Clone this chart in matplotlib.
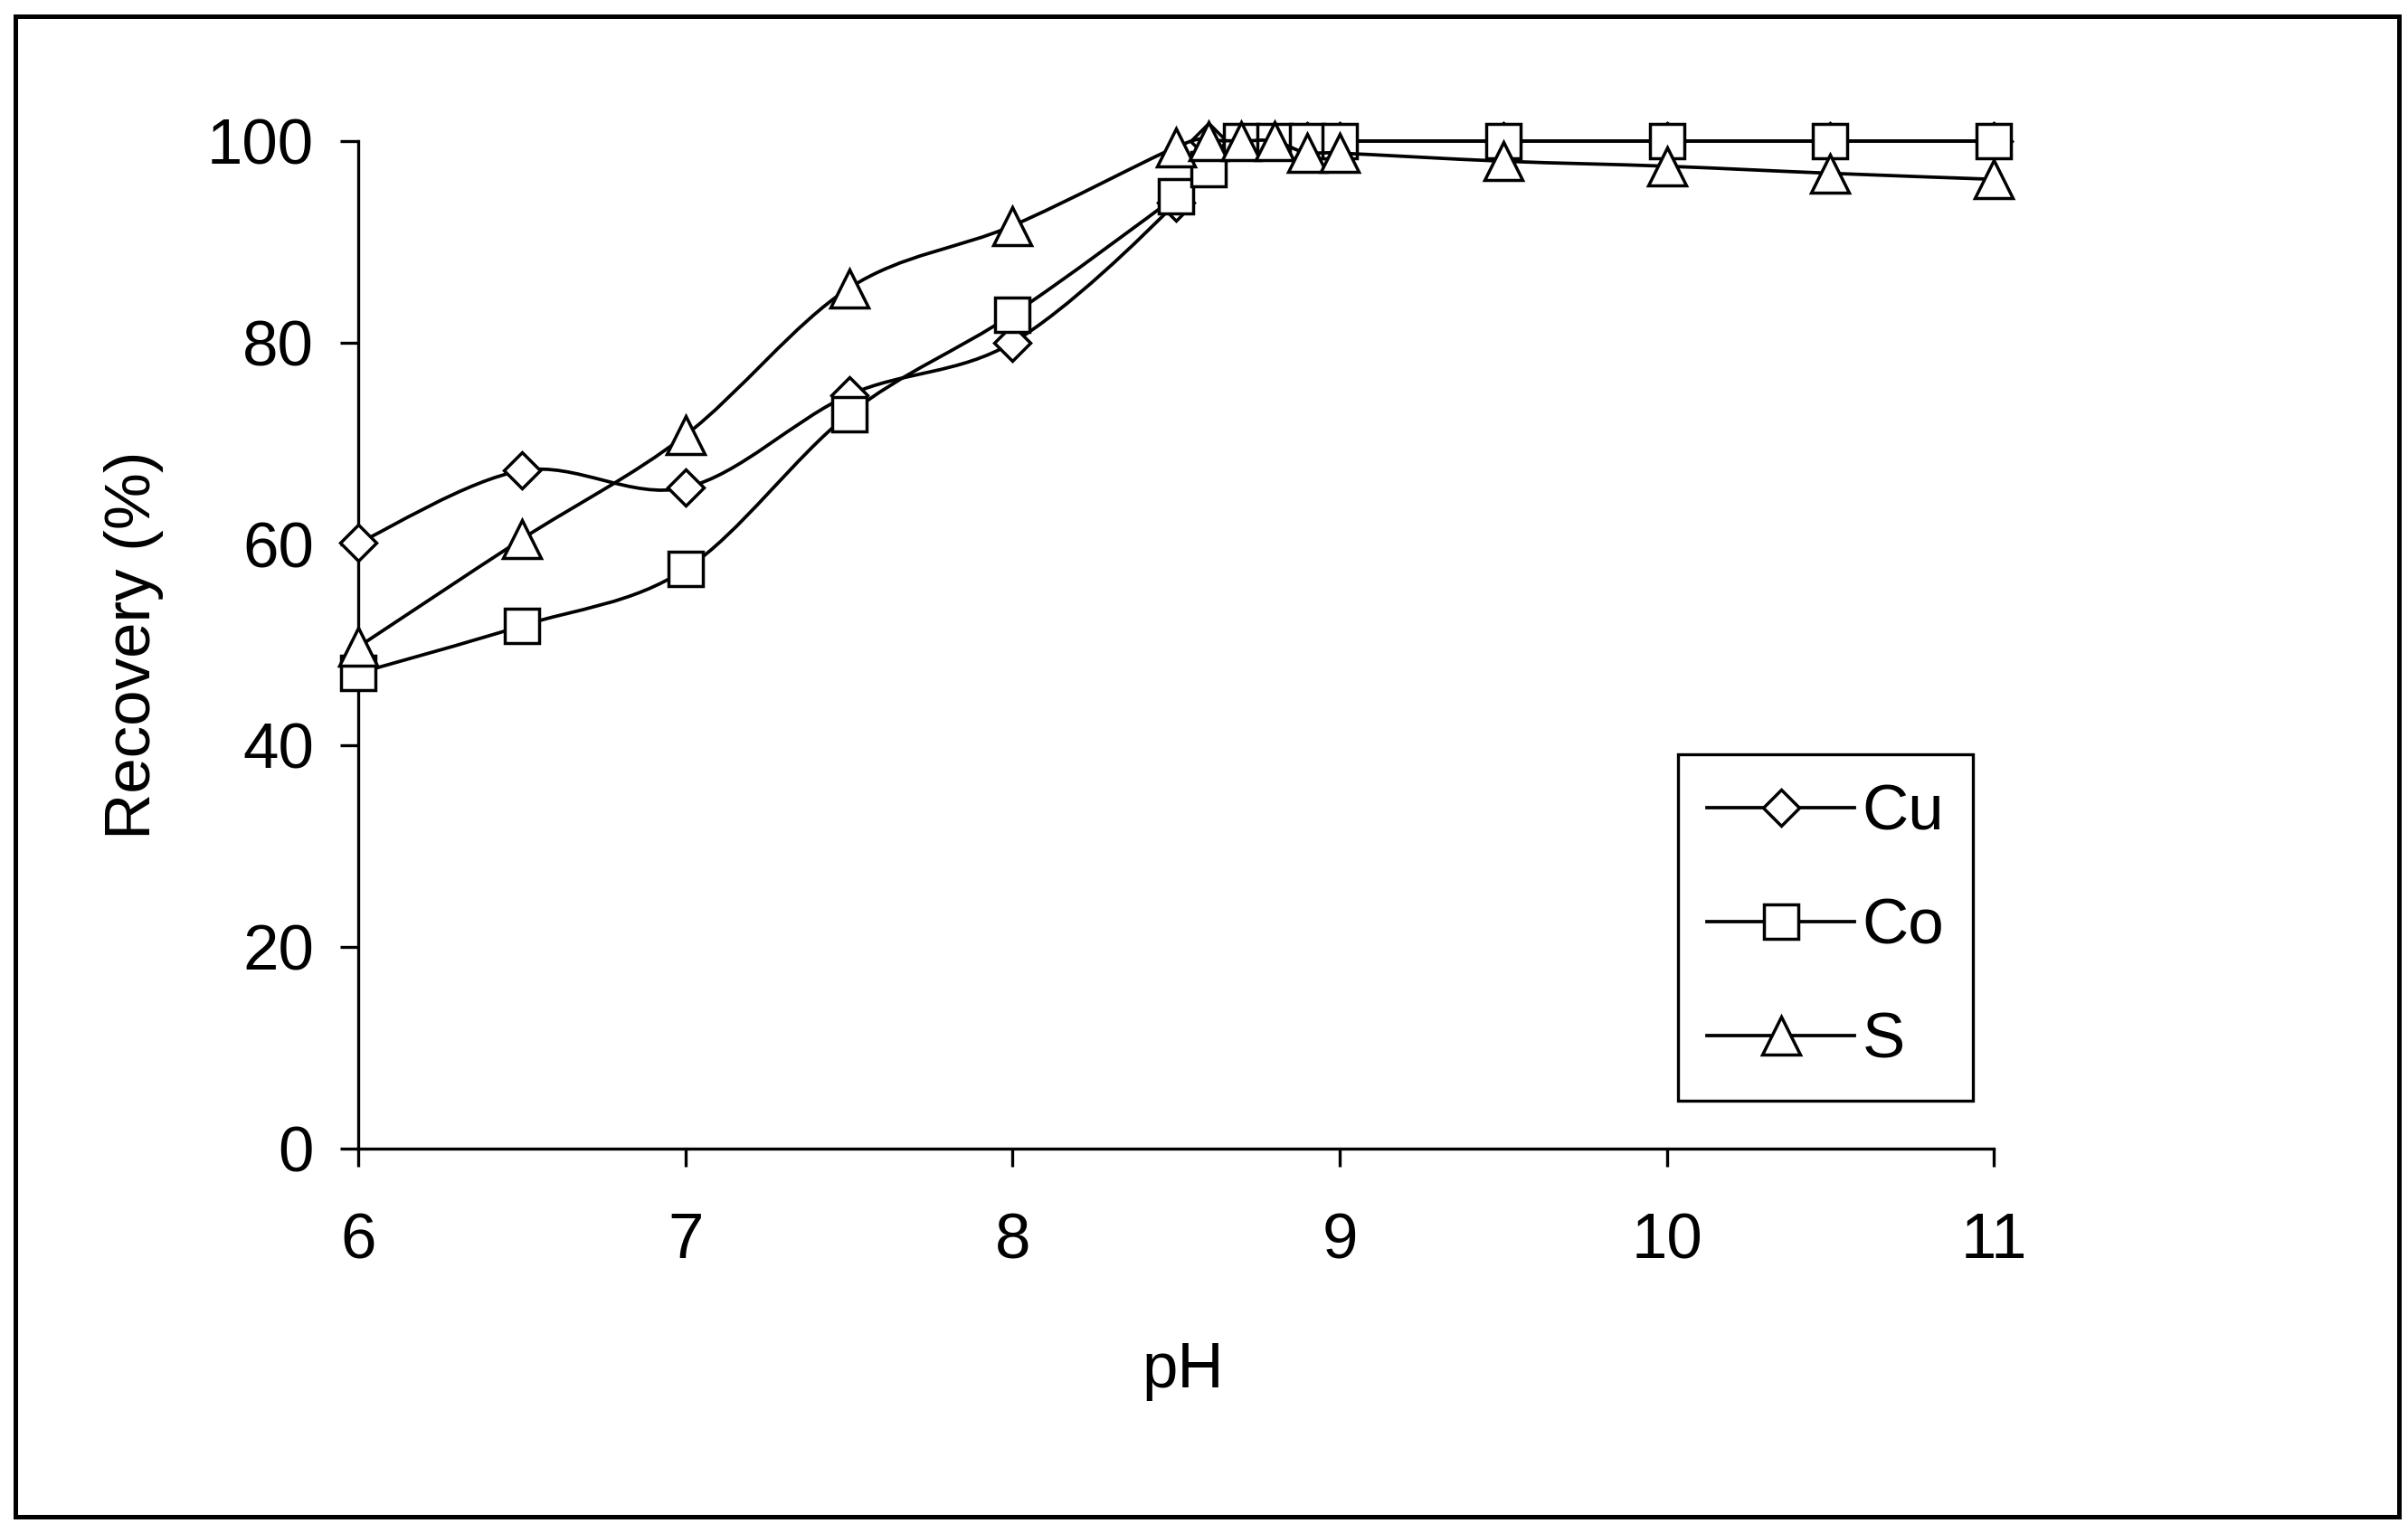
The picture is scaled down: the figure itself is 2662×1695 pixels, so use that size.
import matplotlib.pyplot as plt
from matplotlib.path import Path
from matplotlib.patches import PathPatch, Rectangle
from matplotlib.lines import Line2D
import numpy as np

plt.rcParams['font.family'] = ['Liberation Sans', 'DejaVu Sans']

ph = [6, 6.5, 7, 7.5, 8, 8.5, 8.6, 8.7, 8.8, 8.9, 9, 9.5, 10, 10.5, 11]
cu = [60.1, 67.3, 65.6, 74.8, 80.0, 93.9, 100, 100, 100, 100, 100, 100, 100, 100, 100]
co = [47.2, 51.9, 57.5, 72.9, 82.8, 94.5, 97.2, 100, 100, 100, 100, 100, 100, 100, 100]
s = [49.8, 60.5, 70.8, 85.4, 91.6, 99.4, 100, 100, 100, 98.8, 98.8, 98.0, 97.5, 96.8, 96.2]

series = [('Cu', cu, 'D', 10.3), ('Co', co, 's', 13.5), ('S', s, '^', 14.8)]
xticks = [6, 7, 8, 9, 10, 11]
yticks = [0, 20, 40, 60, 80, 100]


def smooth_path(x, y):
    # excel-like smoothed line (catmull-rom as bezier)
    x = np.asarray(x, float)
    y = np.asarray(y, float)
    n = len(x)
    verts = [(x[0], y[0])]
    codes = [Path.MOVETO]
    for i in range(n - 1):
        i0 = max(i - 1, 0)
        i3 = min(i + 2, n - 1)
        c1 = (x[i] + (x[i + 1] - x[i0]) / 6, y[i] + (y[i + 1] - y[i0]) / 6)
        c2 = (x[i + 1] - (x[i3] - x[i]) / 6, y[i + 1] - (y[i3] - y[i]) / 6)
        verts += [c1, c2, (x[i + 1], y[i + 1])]
        codes += [Path.CURVE4] * 3
    return Path(verts, codes)


fig = plt.figure(figsize=(13.31, 8.475), dpi=200)
ax = fig.add_axes([0.1488, 0.2507, 0.6792, 0.6573])

lw = 1.35
mew = 1.25
z = 2
handles = []
for name, vals, mk, ms in series:
    patch = PathPatch(smooth_path(ph, vals), facecolor='none', edgecolor='black',
                      lw=lw, zorder=z, clip_on=False)
    ax.add_patch(patch)
    ax.plot(ph, vals, linestyle='none', marker=mk, ms=ms, mfc='white', mec='black',
            mew=mew, zorder=z + 1, clip_on=False)
    handles.append(Line2D([], [], color='black', lw=lw, marker=mk, ms=ms,
                          mfc='white', mec='black', mew=mew, label=name))
    z += 2

ax.set_xlim(6, 11)
ax.set_ylim(0, 100)
ax.set_xticks(xticks)
ax.set_yticks(yticks)
ax.spines['top'].set_visible(False)
ax.spines['right'].set_visible(False)
for sp in ['left', 'bottom']:
    ax.spines[sp].set_linewidth(1.2)
ax.tick_params(axis='both', direction='out', length=7.2, width=1.2,
               labelsize=25.5, colors='black')
ax.tick_params(axis='y', pad=10.5)
ax.tick_params(axis='x', pad=18)

ax.set_xlabel('pH', fontsize=25.5)
ax.xaxis.set_label_coords(0.504, -0.221)
ax.xaxis.label.set_va('center')
ax.set_ylabel('Recovery (%)', fontsize=25.5)
ax.yaxis.set_label_coords(-0.137, 0.5)
ax.yaxis.label.set_va('center')

leg = ax.legend(handles=handles, loc='upper left', bbox_to_anchor=(0.807, 0.391),
                borderaxespad=0, fontsize=25.5, handlelength=2.3, handletextpad=0.12,
                labelspacing=0.85, borderpad=0.45, fancybox=False, framealpha=1,
                edgecolor='black')
leg.get_frame().set_linewidth(1.2)

fig.patches.append(Rectangle((0.0064, 0.0106), 0.9898, 0.9788, transform=fig.transFigure,
                             fill=False, edgecolor='black', lw=1.8))

fig.savefig('out.png', dpi=200, facecolor='white')
